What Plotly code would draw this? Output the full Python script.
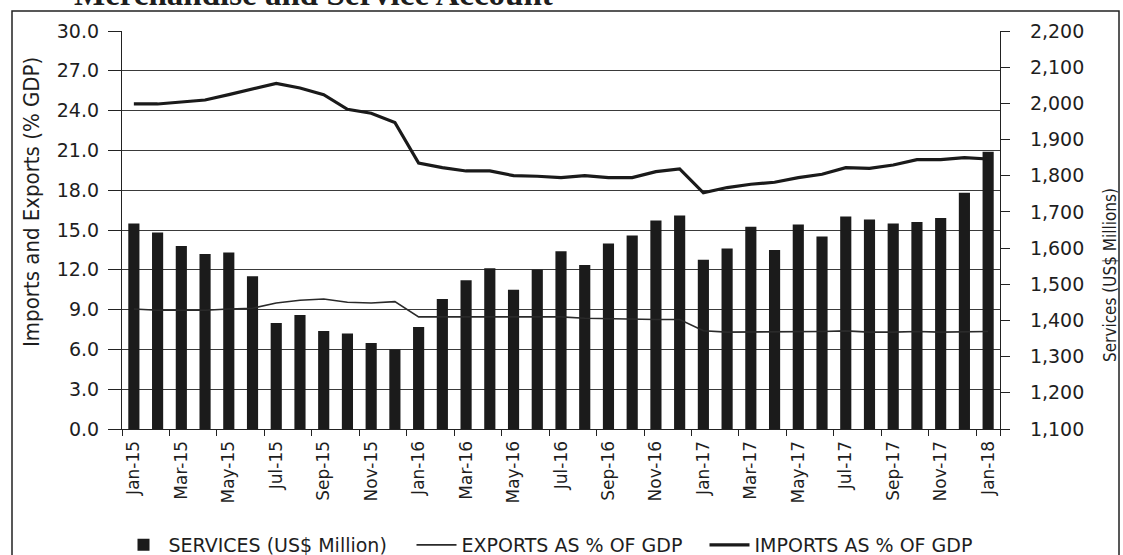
import plotly.graph_objects as go

months = ["Jan-15", "Feb-15", "Mar-15", "Apr-15", "May-15", "Jun-15", "Jul-15", "Aug-15",
          "Sep-15", "Oct-15", "Nov-15", "Dec-15",
          "Jan-16", "Feb-16", "Mar-16", "Apr-16", "May-16", "Jun-16", "Jul-16", "Aug-16",
          "Sep-16", "Oct-16", "Nov-16", "Dec-16",
          "Jan-17", "Feb-17", "Mar-17", "Apr-17", "May-17", "Jun-17", "Jul-17", "Aug-17",
          "Sep-17", "Oct-17", "Nov-17", "Dec-17",
          "Jan-18"]

services = [1668, 1643, 1606, 1584, 1588, 1522, 1393, 1415, 1371, 1364, 1338, 1320,
            1382, 1459, 1511, 1544, 1485, 1540, 1591, 1553, 1613, 1635, 1676, 1690,
            1568, 1599, 1659, 1595, 1665, 1632, 1687, 1679, 1668, 1672, 1683, 1753,
            1866]

exports_pct = [9.05, 8.95, 8.95, 8.95, 9.05, 9.1, 9.5, 9.7, 9.8, 9.55, 9.5, 9.6,
               8.45, 8.45, 8.45, 8.45, 8.45, 8.45, 8.45, 8.35, 8.3, 8.25, 8.25, 8.25,
               7.4, 7.3, 7.3, 7.3, 7.3, 7.35, 7.4, 7.3, 7.3, 7.35, 7.3, 7.35,
               7.35]

imports_pct = [24.5, 24.5, 24.65, 24.8, 25.2, 25.65, 26.05, 25.7, 25.2, 24.1, 23.8, 23.1,
               20.05, 19.7, 19.45, 19.45, 19.1, 19.05, 18.95, 19.1, 18.95, 18.95, 19.4, 19.6,
               17.8, 18.2, 18.45, 18.6, 18.95, 19.2, 19.7, 19.65, 19.9, 20.3, 20.3, 20.45,
               20.35]

label_months = months[::2]

SANS = "DejaVu Sans, Verdana, sans-serif"
NARROW = "Liberation Sans Narrow, DejaVu Sans Condensed, Arial Narrow, sans-serif"
X_TICK_FONT = dict(family=SANS, size=17, color="#1e1e1e")
Y_TICK_FONT = dict(family=SANS, size=19, color="#1e1e1e")

fig = go.Figure()

fig.add_trace(go.Bar(
    x=months, y=services, name="SERVICES (US$ Million)",
    marker=dict(color="#1b1b1b", line=dict(width=0)),
    yaxis="y",
))
fig.add_trace(go.Scatter(
    x=months, y=exports_pct, name="EXPORTS AS % OF GDP", mode="lines",
    line=dict(color="#2a2a2a", width=1.6), yaxis="y2",
))
fig.add_trace(go.Scatter(
    x=months, y=imports_pct, name="IMPORTS AS % OF GDP", mode="lines",
    line=dict(color="#1a1a1a", width=3.2), yaxis="y2",
))

# plot area in pixels: x 122..1000, y 31..429
L, R, T, B = 122, 1000, 31, 429
W, H = R - L, B - T


def px(x):
    return (x - L) / W


def py(y):
    return (B - y) / H


fig.update_layout(
    width=1123, height=555,
    margin=dict(l=L, r=1123 - R, t=T, b=555 - B, autoexpand=False),
    paper_bgcolor="white", plot_bgcolor="white",
    bargap=0.53,
    showlegend=True,
    legend=dict(orientation="h", x=px(558), xanchor="center", y=py(545), yanchor="middle",
                font=dict(family=SANS, size=19, color="#1e1e1e"),
                itemwidth=40, entrywidth=238, traceorder="normal"),
    xaxis=dict(
        type="category", categoryorder="array", categoryarray=months,
        tickmode="array", tickvals=label_months, ticktext=label_months,
        tickson="boundaries", ticks="outside", ticklen=6, tickcolor="#222",
        tickangle=-90, tickfont=X_TICK_FONT, automargin=False, ticklabelstandoff=4,
        showline=True, linecolor="#222", linewidth=1.2, showgrid=False,
        range=[-0.5, len(months) - 0.5],
    ),
    yaxis=dict(
        side="right", range=[1100, 2200], dtick=100, tickformat=",",
        showgrid=False, showline=True, linecolor="#222", linewidth=1.2,
        ticks="outside", ticklen=9, tickcolor="#222", tickfont=Y_TICK_FONT,
        ticklabelstandoff=16,
        zeroline=False, automargin=False,
    ),
    yaxis2=dict(
        overlaying="y", side="left", range=[0, 30], dtick=3, tickformat=".1f",
        showgrid=True, gridcolor="#3a3a3a", gridwidth=1,
        showline=True, linecolor="#222", linewidth=1.2,
        ticks="outside", ticklen=13, tickcolor="#222", tickfont=Y_TICK_FONT,
        ticklabelstandoff=5,
        zeroline=False, automargin=False,
    ),
    annotations=[
        dict(text="Imports and Exports (% GDP)", textangle=-90, showarrow=False,
             xref="paper", yref="paper", x=px(31), y=py(202),
             xanchor="center", yanchor="middle",
             font=dict(family=NARROW, size=22, color="#1e1e1e")),
        dict(text="Services (US$ Millions)", textangle=-90, showarrow=False,
             xref="paper", yref="paper", x=px(1110), y=py(275),
             xanchor="center", yanchor="middle",
             font=dict(family=NARROW, size=17, color="#1e1e1e")),
        dict(text="<b>Merchandise and Service Account</b>", showarrow=False,
             xref="paper", yref="paper", x=px(72), y=py(-6),
             xanchor="left", yanchor="middle",
             font=dict(family="Liberation Serif, Times New Roman, serif", size=33, color="#1e1e1e")),
    ],
    shapes=[
        dict(type="rect", xref="paper", yref="paper",
             x0=px(12), x1=px(1119), y0=py(562), y1=py(11),
             line=dict(color="#222", width=1.5), fillcolor="rgba(0,0,0,0)", layer="below"),
    ],
)

fig.write_html(
    "out.html",
    config={"displayModeBar": False},
    post_script="document.body.style.margin='0';document.body.style.overflow='hidden';",
)
